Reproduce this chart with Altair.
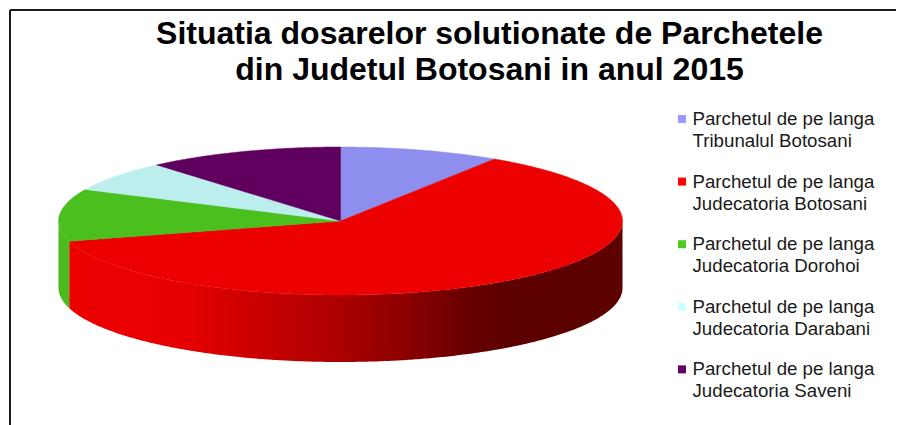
import math
import altair as alt
import pandas as pd

names = ["Parchetul de pe langa\nTribunalul Botosani",
         "Parchetul de pe langa\nJudecatoria Botosani",
         "Parchetul de pe langa\nJudecatoria Dorohoi",
         "Parchetul de pe langa\nJudecatoria Darabani",
         "Parchetul de pe langa\nJudecatoria Saveni"]
values = [9.2, 61.4, 11.4, 6.7, 11.3]
face_colors = ["#8E8EEE", "#EC0000", "#4BBF1E", "#BCEEEE", "#5F005F"]
legend_colors = ["#9999FF", "#FF0000", "#4DCC1F", "#CCFFFF", "#660066"]
title_lines = ["Situatia dosarelor solutionate de Parchetele",
               "din Judetul Botosani in anul 2015"]

CX, CY, RX, RY, DEPTH = 340.5, 221.0, 282.0, 74.0, 67.0
XS = alt.Scale(domain=[8, 896], range=[0, 888], nice=False, zero=False)
X = alt.X("x:Q", axis=None, scale=XS)
Y = alt.Y("y:Q", axis=None, scale=alt.Scale(domain=[8, 425], range=[0, 417], nice=False, zero=False))


def pt(deg):
    a = math.radians(deg)
    return CX + RX * math.sin(a), CY - RY * math.cos(a)


total = sum(values)
bounds = [0.0]
for v in values:
    bounds.append(bounds[-1] + 360.0 * v / total)


def arc_degs(a0, a1):
    n = max(2, int((a1 - a0) * 2))
    return [a0 + (a1 - a0) * i / n for i in range(n + 1)]


layers = []

# side walls (only the front half of the disc is visible)
wall_styles = {
    1: alt.Gradient(gradient="linear", x1=0, x2=1, y1=0, y2=0, stops=[
        alt.GradientStop(offset=0.0, color="#EC0000"),
        alt.GradientStop(offset=0.12, color="#EA0000"),
        alt.GradientStop(offset=0.22, color="#E40000"),
        alt.GradientStop(offset=0.31, color="#D00000"),
        alt.GradientStop(offset=0.47, color="#B00000"),
        alt.GradientStop(offset=0.60, color="#8E0000"),
        alt.GradientStop(offset=0.72, color="#680000"),
        alt.GradientStop(offset=0.80, color="#5C0000"),
        alt.GradientStop(offset=1.0, color="#5C0000")]),
    2: "#4ABC1D",
}
for i, style in wall_styles.items():
    a0, a1 = max(bounds[i], 90), min(bounds[i + 1], 270)
    rows = []
    for d in arc_degs(a0, a1):
        x, y = pt(d)
        rows.append({"x": x, "y": y, "y2": y + DEPTH})
    layers.append(alt.Chart(pd.DataFrame(rows)).mark_area(color=style, interpolate="linear")
                  .encode(x=X, y=Y, y2="y2:Q"))

# top faces
for i, name in enumerate(names):
    rows = [{"x": CX, "y": CY, "o": 0}]
    for j, d in enumerate(arc_degs(bounds[i], bounds[i + 1])):
        x, y = pt(d)
        rows.append({"x": x, "y": y, "o": j + 1})
    rows.append({"x": CX, "y": CY, "o": len(rows)})
    layers.append(alt.Chart(pd.DataFrame(rows)).mark_line(
        fill=face_colors[i], stroke=face_colors[i], strokeWidth=0.5, interpolate="linear")
        .encode(x=X, y=Y, order="o:Q"))

# frame, running off the picture at right and bottom
layers.append(alt.Chart(pd.DataFrame({"x": [10], "y": [10], "y2": [425]})).mark_rule(
    color="#1A1A1A", strokeWidth=2).encode(x=X, y=Y, y2="y2:Q"))
layers.append(alt.Chart(pd.DataFrame({"x": [10], "x2": [896], "y": [10]})).mark_rule(
    color="#1A1A1A", strokeWidth=2).encode(x=X, x2="x2:Q", y=Y))

# legend
leg = pd.DataFrame({
    "name": names,
    "color": legend_colors,
    "y": [119 + 62.6 * i for i in range(len(names))],
    "x": [682] * len(names),
    "tx": [692.5] * len(names),
})
layers.append(alt.Chart(leg).mark_square(size=64, opacity=1).encode(
    x=X, y=Y, color=alt.Color("color:N", scale=None)))
layers.append(alt.Chart(leg).mark_text(
    align="left", baseline="middle", font="Liberation Sans", fontSize=18.7,
    lineBreak="\n", lineHeight=22, color="#1A1A1A"
).encode(x=alt.X("tx:Q", axis=None, scale=XS), y=Y, text="name:N"))

chart = alt.layer(*layers).properties(
    width=888, height=417,
    padding=0,
    background="white",
    autosize=alt.AutoSizeParams(type="none"),
    title=alt.TitleParams(text=title_lines, font="Liberation Sans", fontSize=32,
                          fontWeight="bold", color="#000000", lineHeight=36,
                          anchor="start", align="center", frame="group",
                          baseline="top", dx=481.5, dy=78.5, offset=0),
).configure_view(stroke=None)

chart.save("out.html", embed_options={"renderer": "svg", "actions": False})
